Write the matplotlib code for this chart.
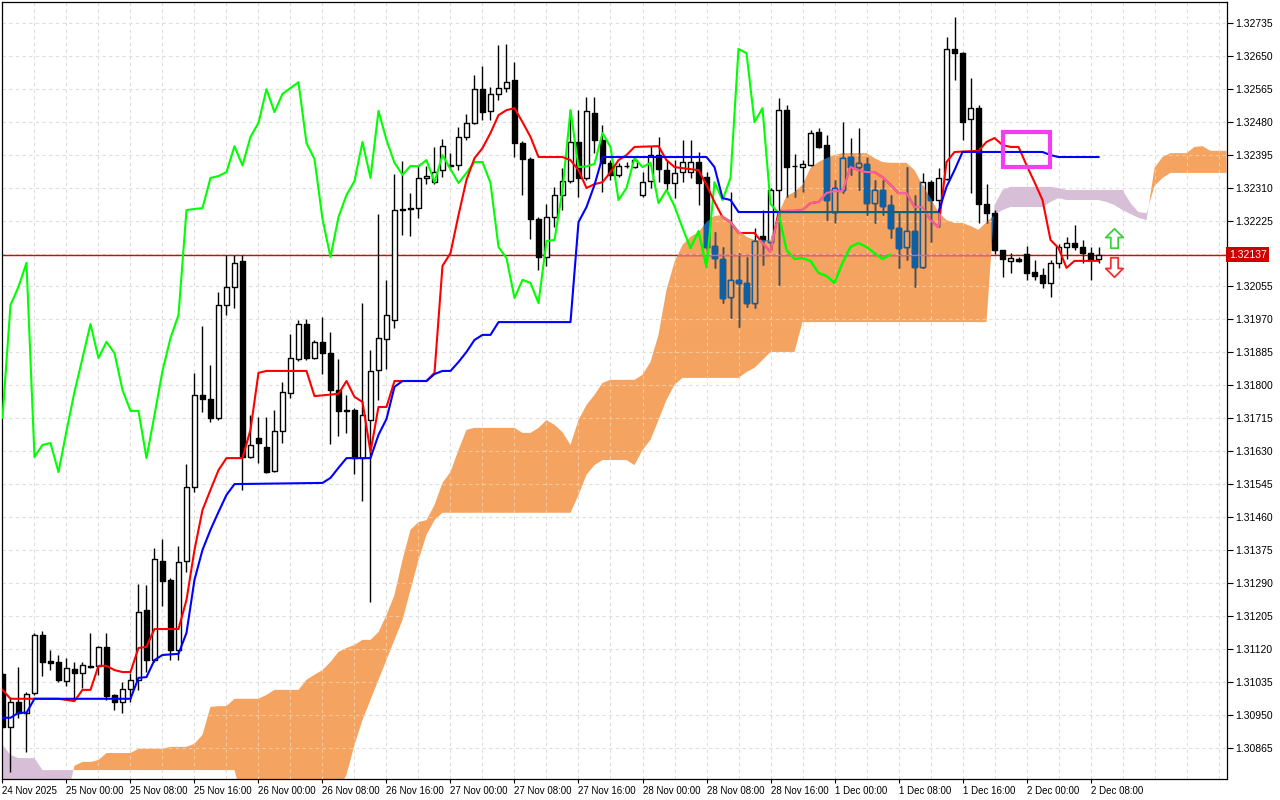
import numpy as np
import matplotlib.pyplot as plt
from matplotlib.path import Path
from matplotlib.collections import LineCollection, PolyCollection
from matplotlib.patches import Rectangle

# ---------------- data (H1 candles, 24 Nov 16:00 -> 2 Dec 09:00) ----------------
opens = [
    1.31055, 1.30918, 1.30983, 1.30955, 1.31006, 1.31156, 1.31089, 1.31086, 1.31037, 1.31068,
    1.31058, 1.31073, 1.31076, 1.31125, 1.31001, 1.30983, 1.31016, 1.31040, 1.31220, 1.31091,
    1.31347, 1.31298, 1.31117, 1.31347, 1.31538, 1.31775, 1.31765, 1.31716, 1.32007, 1.32054,
    1.32121, 1.31615, 1.31664, 1.31641, 1.31579, 1.31682, 1.31780, 1.31868, 1.31958, 1.31870,
    1.31912, 1.31883, 1.31788, 1.31736, 1.31736, 1.31612, 1.31710, 1.31839, 1.31919, 1.31968,
    1.32252, 1.32255, 1.32257, 1.32335, 1.32324, 1.32355, 1.32368, 1.32368, 1.32441, 1.32477,
    1.32564, 1.32508, 1.32552, 1.32567, 1.32588, 1.32425, 1.32384, 1.32229, 1.32131, 1.32234,
    1.32291, 1.32327, 1.32428, 1.32335, 1.32503, 1.32433, 1.32374, 1.32343, 1.32366, 1.32363,
    1.32291, 1.32327, 1.32394, 1.32355, 1.32322, 1.32350, 1.32350, 1.32376, 1.32337, 1.32159,
    1.32126, 1.32028, 1.32072, 1.32064, 1.32012, 1.32185, 1.32170, 1.32304, 1.32510, 1.32366,
    1.32363, 1.32368, 1.32453, 1.32420, 1.32247, 1.32304, 1.32389, 1.32363, 1.32371, 1.32270,
    1.32304, 1.32265, 1.32206, 1.32157, 1.32198, 1.32105, 1.32324, 1.32278, 1.32332, 1.32668,
    1.32657, 1.32487, 1.32515, 1.32268, 1.32244, 1.32149, 1.32121, 1.32126, 1.32139, 1.32092,
    1.32085, 1.32064, 1.32116, 1.32157, 1.32167, 1.32157, 1.32141, 1.32126,
]
highs = [
    1.31060, 1.30996, 1.31073, 1.31009, 1.31161, 1.31166, 1.31117, 1.31104, 1.31096, 1.31086,
    1.31086, 1.31161, 1.31127, 1.31161, 1.31004, 1.31034, 1.31058, 1.31287, 1.31285, 1.31380,
    1.31403, 1.31303, 1.31385, 1.31597, 1.31832, 1.31953, 1.31852, 1.32041, 1.32136, 1.32136,
    1.32136, 1.31723, 1.31718, 1.31718, 1.31736, 1.31808, 1.31932, 1.31968, 1.31971, 1.31917,
    1.31976, 1.31937, 1.31868, 1.31775, 1.31741, 1.32012, 1.31891, 1.32242, 1.32072, 1.32345,
    1.32379, 1.32296, 1.32368, 1.32366, 1.32415, 1.32435, 1.32399, 1.32466, 1.32500, 1.32601,
    1.32624, 1.32570, 1.32678, 1.32681, 1.32634, 1.32430, 1.32389, 1.32234, 1.32268, 1.32312,
    1.32361, 1.32510, 1.32510, 1.32544, 1.32544, 1.32472, 1.32381, 1.32374, 1.32376, 1.32386,
    1.32350, 1.32417, 1.32441, 1.32381, 1.32381, 1.32433, 1.32433, 1.32402, 1.32350, 1.32195,
    1.32157, 1.32299, 1.32141, 1.32131, 1.32206, 1.32252, 1.32309, 1.32541, 1.32523, 1.32397,
    1.32381, 1.32459, 1.32464, 1.32446, 1.32330, 1.32479, 1.32438, 1.32464, 1.32389, 1.32330,
    1.32330, 1.32291, 1.32244, 1.32363, 1.32291, 1.32348, 1.32330, 1.32361, 1.32699, 1.32750,
    1.32660, 1.32593, 1.32523, 1.32319, 1.32252, 1.32149, 1.32141, 1.32131, 1.32159, 1.32123,
    1.32103, 1.32123, 1.32165, 1.32183, 1.32214, 1.32175, 1.32157, 1.32157,
]
lows = [
    1.30916, 1.30802, 1.30942, 1.30854, 1.31001, 1.31050, 1.31065, 1.31034, 1.31024, 1.30991,
    1.31019, 1.31071, 1.31053, 1.30988, 1.30962, 1.30955, 1.30983, 1.31014, 1.31060, 1.31086,
    1.31231, 1.31091, 1.31091, 1.31318, 1.31525, 1.31731, 1.31705, 1.31710, 1.31981, 1.31999,
    1.31530, 1.31612, 1.31600, 1.31574, 1.31576, 1.31651, 1.31767, 1.31863, 1.31865, 1.31868,
    1.31829, 1.31649, 1.31669, 1.31677, 1.31571, 1.31501, 1.31241, 1.31762, 1.31842, 1.31948,
    1.32188, 1.32185, 1.32232, 1.32319, 1.32319, 1.32337, 1.32355, 1.32355, 1.32433, 1.32474,
    1.32484, 1.32484, 1.32536, 1.32557, 1.32389, 1.32291, 1.32177, 1.32097, 1.32108, 1.32208,
    1.32252, 1.32322, 1.32286, 1.32330, 1.32399, 1.32299, 1.32330, 1.32337, 1.32361, 1.32361,
    1.32286, 1.32309, 1.32324, 1.32304, 1.32283, 1.32324, 1.32335, 1.32265, 1.32149, 1.32103,
    1.32012, 1.31974, 1.31950, 1.32002, 1.31999, 1.32110, 1.32149, 1.32059, 1.32286, 1.32286,
    1.32299, 1.32366, 1.32412, 1.32226, 1.32219, 1.32296, 1.32343, 1.32304, 1.32239, 1.32219,
    1.32239, 1.32180, 1.32103, 1.32123, 1.32054, 1.32103, 1.32170, 1.32208, 1.32330, 1.32588,
    1.32433, 1.32296, 1.32219, 1.32219, 1.32139, 1.32079, 1.32090, 1.32118, 1.32072, 1.32072,
    1.32051, 1.32028, 1.32103, 1.32126, 1.32149, 1.32116, 1.32072, 1.32116,
]
closes = [
    1.30918, 1.30983, 1.30955, 1.31004, 1.31156, 1.31086, 1.31083, 1.31040, 1.31071, 1.31058,
    1.31078, 1.31076, 1.31125, 1.30998, 1.30983, 1.31016, 1.31040, 1.31215, 1.31091, 1.31352,
    1.31295, 1.31117, 1.31344, 1.31538, 1.31775, 1.31765, 1.31716, 1.32007, 1.32054, 1.32116,
    1.31615, 1.31646, 1.31651, 1.31576, 1.31682, 1.31783, 1.31870, 1.31958, 1.31870, 1.31912,
    1.31883, 1.31788, 1.31734, 1.31734, 1.31612, 1.31723, 1.31837, 1.31922, 1.31981, 1.32252,
    1.32255, 1.32257, 1.32335, 1.32340, 1.32350, 1.32417, 1.32367, 1.32441, 1.32477, 1.32564,
    1.32505, 1.32552, 1.32567, 1.32582, 1.32425, 1.32384, 1.32229, 1.32131, 1.32234, 1.32291,
    1.32327, 1.32428, 1.32335, 1.32508, 1.32433, 1.32374, 1.32343, 1.32366, 1.32365, 1.32381,
    1.32324, 1.32394, 1.32358, 1.32322, 1.32348, 1.32376, 1.32376, 1.32322, 1.32157, 1.32128,
    1.32025, 1.32072, 1.32064, 1.32012, 1.32172, 1.32175, 1.32304, 1.32510, 1.32363, 1.32365,
    1.32371, 1.32451, 1.32415, 1.32278, 1.32309, 1.32386, 1.32363, 1.32374, 1.32270, 1.32304,
    1.32262, 1.32206, 1.32154, 1.32198, 1.32105, 1.32324, 1.32278, 1.32335, 1.32668, 1.32657,
    1.32479, 1.32515, 1.32268, 1.32244, 1.32149, 1.32126, 1.32128, 1.32121, 1.32090, 1.32082,
    1.32064, 1.32116, 1.32157, 1.32167, 1.32157, 1.32141, 1.32126, 1.32137,
]

# Tenkan-sen (bar, price)
tenkan_pts = [
    (0, 1.31014), (1, 1.30991), (7, 1.30991), (9, 1.30985), (10, 1.31014), (11, 1.31014),
    (12, 1.31076), (13, 1.31076), (14, 1.31065), (15, 1.31060), (16, 1.31060), (17, 1.31122),
    (18, 1.31125), (19, 1.31171), (22, 1.31171), (23, 1.31246), (24, 1.31375), (25, 1.31478),
    (26, 1.31530), (27, 1.31581), (28, 1.31612), (30, 1.31612), (31, 1.31685), (32, 1.31832),
    (33, 1.31837), (38, 1.31837), (39, 1.31772), (42, 1.31778), (43, 1.31811), (44, 1.31770),
    (45, 1.31757), (46, 1.31628), (47, 1.31744), (48, 1.31744), (49, 1.31811), (53, 1.31811),
    (54, 1.31832), (55, 1.32108), (56, 1.32141), (57, 1.32239), (58, 1.32330), (59, 1.32386),
    (60, 1.32412), (61, 1.32451), (62, 1.32497), (63, 1.32510), (64, 1.32515), (65, 1.32479),
    (66, 1.32441), (67, 1.32389), (70, 1.32389), (71, 1.32381), (72, 1.32355), (73, 1.32309),
    (74, 1.32319), (75, 1.32324), (76, 1.32350), (77, 1.32381), (78, 1.32394), (79, 1.32415),
    (82, 1.32417), (83, 1.32381), (84, 1.32363), (87, 1.32355), (88, 1.32317), (89, 1.32273),
    (90, 1.32234), (91, 1.32221), (92, 1.32193), (94, 1.32193), (95, 1.32167), (96, 1.32144),
    (97, 1.32247), (98, 1.32250), (99, 1.32250), (100, 1.32252), (101, 1.32270), (102, 1.32273),
    (103, 1.32296), (104, 1.32301), (105, 1.32301), (106, 1.32363), (107, 1.32355), (108, 1.32350),
    (109, 1.32350), (110, 1.32337), (111, 1.32317), (112, 1.32296), (113, 1.32296), (114, 1.32260),
    (115, 1.32260), (116, 1.32226), (117, 1.32208), (118, 1.32376), (119, 1.32402), (122, 1.32405),
    (123, 1.32428), (124, 1.32438), (125, 1.32420), (126, 1.32415), (127, 1.32415), (128, 1.32368),
    (129, 1.32324), (130, 1.32278), (131, 1.32175), (132, 1.32154), (133, 1.32103), (134, 1.32121),
    (137, 1.32121),
]

# Kijun-sen (bar, price)
kijun_pts = [
    (0, 1.30942), (1, 1.30942), (2, 1.30955), (3, 1.30955), (4, 1.30991), (16, 1.30991),
    (17, 1.31045), (18, 1.31047), (19, 1.31091), (20, 1.31104), (22, 1.31107), (23, 1.31161),
    (24, 1.31298), (25, 1.31375), (26, 1.31427), (27, 1.31473), (28, 1.31517), (29, 1.31545),
    (40, 1.31548), (41, 1.31561), (42, 1.31587), (43, 1.31612), (46, 1.31612), (47, 1.31672),
    (48, 1.31713), (49, 1.31796), (50, 1.31811), (53, 1.31811), (54, 1.31829), (55, 1.31837),
    (56, 1.31837), (57, 1.31860), (58, 1.31886), (59, 1.31917), (60, 1.31930), (61, 1.31930),
    (62, 1.31963), (71, 1.31963), (72, 1.32221), (73, 1.32260), (74, 1.32317), (75, 1.32389),
    (88, 1.32389), (89, 1.32363), (90, 1.32283), (91, 1.32278), (92, 1.32247), (117, 1.32247),
    (118, 1.32312), (119, 1.32355), (120, 1.32402), (130, 1.32402), (131, 1.32394), (132, 1.32389),
    (137, 1.32389),
]

# Chikou span (drawn from bar 0)
chikou = [
    1.31716, 1.32007, 1.32054, 1.32116, 1.31615, 1.31646, 1.31651, 1.31576, 1.31682, 1.31783,
    1.31870, 1.31958, 1.31870, 1.31912, 1.31883, 1.31788, 1.31734, 1.31734, 1.31612, 1.31723,
    1.31837, 1.31922, 1.31981, 1.32252, 1.32255, 1.32257, 1.32335, 1.32340, 1.32350, 1.32417,
    1.32367, 1.32441, 1.32477, 1.32564, 1.32505, 1.32552, 1.32567, 1.32582, 1.32425, 1.32384,
    1.32229, 1.32131, 1.32234, 1.32291, 1.32327, 1.32428, 1.32335, 1.32508, 1.32433, 1.32374,
    1.32343, 1.32366, 1.32365, 1.32381, 1.32324, 1.32394, 1.32358, 1.32322, 1.32348, 1.32376,
    1.32376, 1.32322, 1.32157, 1.32128, 1.32025, 1.32072, 1.32064, 1.32012, 1.32172, 1.32175,
    1.32304, 1.32510, 1.32363, 1.32365, 1.32371, 1.32451, 1.32415, 1.32278, 1.32309, 1.32386,
    1.32363, 1.32374, 1.32270, 1.32304, 1.32262, 1.32206, 1.32154, 1.32198, 1.32105, 1.32324,
    1.32278, 1.32335, 1.32668, 1.32657, 1.32479, 1.32515, 1.32268, 1.32244, 1.32149, 1.32126,
    1.32128, 1.32121, 1.32090, 1.32082, 1.32064, 1.32116, 1.32157, 1.32167, 1.32157, 1.32141,
    1.32126, 1.32137,
]

# Senkou span A / B (bar 0 .. 153, shifted forward)
span_a = [
    1.30730, 1.30730, 1.30730, 1.30730, 1.30730, 1.30730, 1.30730, 1.30730, 1.30730, 1.30818,
    1.30828, 1.30828, 1.30833, 1.30851, 1.30851, 1.30851, 1.30851, 1.30862, 1.30862, 1.30862,
    1.30862, 1.30867, 1.30867, 1.30867, 1.30875, 1.30898, 1.30970, 1.30972, 1.30972, 1.30991,
    1.30991, 1.30991, 1.30991, 1.31001, 1.31014, 1.31014, 1.31014, 1.31014, 1.31040, 1.31053,
    1.31065, 1.31086, 1.31112, 1.31122, 1.31130, 1.31143, 1.31143, 1.31163, 1.31207, 1.31259,
    1.31349, 1.31427, 1.31447, 1.31452, 1.31491, 1.31548, 1.31576, 1.31633, 1.31685, 1.31690,
    1.31690, 1.31690, 1.31690, 1.31690, 1.31690, 1.31677, 1.31677, 1.31690, 1.31710, 1.31698,
    1.31679, 1.31646, 1.31710, 1.31749, 1.31775, 1.31806, 1.31814, 1.31814, 1.31814, 1.31814,
    1.31827, 1.31860, 1.31930, 1.32046, 1.32118, 1.32162, 1.32183, 1.32195, 1.32221, 1.32237,
    1.32239, 1.32226, 1.32201, 1.32183, 1.32175, 1.32175, 1.32175, 1.32244, 1.32288, 1.32299,
    1.32317, 1.32361, 1.32376, 1.32386, 1.32394, 1.32399, 1.32399, 1.32399, 1.32399, 1.32386,
    1.32376, 1.32374, 1.32374, 1.32374, 1.32355, 1.32317, 1.32283, 1.32247, 1.32226, 1.32219,
    1.32219, 1.32211, 1.32201, 1.32221, 1.32239, 1.32252, 1.32260, 1.32260, 1.32260, 1.32260,
    1.32260, 1.32273, 1.32283, 1.32278, 1.32278, 1.32278, 1.32278, 1.32278, 1.32273, 1.32265,
    1.32252, 1.32242, 1.32232, 1.32226, 1.32361, 1.32389, 1.32399, 1.32399, 1.32399, 1.32415,
    1.32417, 1.32405, 1.32405, 1.32405,
]
span_b = [
    1.30872, 1.30846, 1.30838, 1.30838, 1.30838, 1.30807, 1.30807, 1.30807, 1.30807, 1.30807,
    1.30807, 1.30807, 1.30807, 1.30807, 1.30807, 1.30807, 1.30807, 1.30807, 1.30807, 1.30807,
    1.30807, 1.30807, 1.30807, 1.30807, 1.30807, 1.30807, 1.30807, 1.30807, 1.30807, 1.30807,
    1.30730, 1.30730, 1.30730, 1.30730, 1.30730, 1.30730, 1.30730, 1.30730, 1.30730, 1.30730,
    1.30730, 1.30730, 1.30756, 1.30795, 1.30872, 1.30936, 1.30988, 1.31040, 1.31091, 1.31143,
    1.31194, 1.31272, 1.31349, 1.31414, 1.31452, 1.31471, 1.31471, 1.31471, 1.31471, 1.31471,
    1.31471, 1.31471, 1.31471, 1.31471, 1.31471, 1.31471, 1.31471, 1.31471, 1.31471, 1.31471,
    1.31471, 1.31471, 1.31517, 1.31569, 1.31594, 1.31607, 1.31607, 1.31607, 1.31607, 1.31594,
    1.31633, 1.31659, 1.31710, 1.31762, 1.31801, 1.31819, 1.31819, 1.31819, 1.31819, 1.31819,
    1.31819, 1.31819, 1.31819, 1.31834, 1.31845, 1.31865, 1.31886, 1.31886, 1.31886, 1.31886,
    1.31963, 1.31963, 1.31963, 1.31963, 1.31963, 1.31963, 1.31963, 1.31963, 1.31963, 1.31963,
    1.31963, 1.31963, 1.31963, 1.31963, 1.31963, 1.31963, 1.31963, 1.31963, 1.31963, 1.31963,
    1.31963, 1.31963, 1.31963, 1.31963, 1.32265, 1.32304, 1.32312, 1.32312, 1.32312, 1.32312,
    1.32312, 1.32312, 1.32309, 1.32304, 1.32304, 1.32304, 1.32304, 1.32304, 1.32304, 1.32304,
    1.32304, 1.32270, 1.32247, 1.32244, 1.32314, 1.32335, 1.32348, 1.32348, 1.32348, 1.32348,
    1.32348, 1.32348, 1.32348, 1.32348,
]

last_price = 1.32137
price_ticks = [1.30865, 1.30950, 1.31035, 1.31120, 1.31205, 1.31290, 1.31375, 1.31460,
               1.31545, 1.31630, 1.31715, 1.31800, 1.31885, 1.31970, 1.32055, 1.32140,
               1.32225, 1.32310, 1.32395, 1.32480, 1.32565, 1.32650, 1.32735]
date_bars = [0, 8, 16, 24, 32, 40, 48, 56, 64, 72, 80, 88, 96, 104, 112, 120, 128, 136]
date_labels = ['24 Nov 2025', '25 Nov 00:00', '25 Nov 08:00', '25 Nov 16:00', '26 Nov 00:00',
               '26 Nov 08:00', '26 Nov 16:00', '27 Nov 00:00', '27 Nov 08:00', '27 Nov 16:00',
               '28 Nov 00:00', '28 Nov 08:00', '28 Nov 16:00', '1 Dec 00:00', '1 Dec 08:00',
               '1 Dec 16:00', '2 Dec 00:00', '2 Dec 08:00']

# marked box + signal arrows
box_bars = (125.05, 130.9)
box_prices = (1.32363, 1.32453)
arrow_bar = 138.9
arrow_up_price = 1.32180
arrow_down_price = 1.32105

# ---------------- drawing ----------------
plt.rcParams['font.family'] = ['Liberation Sans', 'DejaVu Sans']

o = np.array(opens)
h = np.array(highs)
l = np.array(lows)
c = np.array(closes)
bars = np.arange(len(o))

fig = plt.figure(figsize=(12.8, 8), dpi=100)
ax = fig.add_axes([2 / 1280, 21 / 800, 1225 / 1280, 777 / 800])
ax.set_xlim(-0.06, 153.06)
ax.set_ylim(1.30784, 1.32789)

grid_kw = dict(lw=0.8, ls=(0, (3, 3)))
for p in price_ticks:
    ax.axhline(p, color='#dedede', zorder=0, **grid_kw)
for b in range(4, 154, 4):
    ax.axvline(b, color='#dedede', zorder=0, **grid_kw)

# cloud
ka = np.arange(len(span_a))
a = np.array(span_a)
b = np.array(span_b)
orange = ax.fill_between(ka, a, b, where=a >= b, interpolate=True,
                         color='#F4A460', lw=0, zorder=1)
ax.fill_between(ka, a, b, where=a < b, interpolate=True,
                color='#D8BFD8', lw=0, zorder=1)
cloud_clip = Path.make_compound_path(*orange.get_paths())


def clipped(art, clip):
    if clip is not None:
        art.set_clip_path(clip, ax.transData)
    return art


def draw_candles(col, up_face, z, clip=None):
    wicks = LineCollection([[(i, lo), (i, hi)] for i, lo, hi in zip(bars, l, h)],
                           colors=col, linewidths=1.0, zorder=z)
    boxes, faces = [], []
    for i in bars:
        lo, hi = min(o[i], c[i]), max(o[i], c[i])
        boxes.append([(i - 0.28, lo), (i + 0.28, lo), (i + 0.28, hi), (i - 0.28, hi)])
        faces.append(up_face if c[i] > o[i] else col)
    body = PolyCollection(boxes, facecolors=faces, edgecolors=col,
                          linewidths=1.0, zorder=z + 0.1)
    ax.add_collection(clipped(wicks, clip))
    ax.add_collection(clipped(body, clip))


def draw_lines(price_col, tenkan_col, kijun_col, z, clip=None):
    clipped(ax.axhline(last_price, color=price_col, lw=1.0, zorder=z), clip)
    clipped(ax.plot(range(len(chikou)), chikou, color='#00FF00', lw=1.5, zorder=z + 2)[0], clip)
    tb, tv = zip(*tenkan_pts)
    clipped(ax.plot(tb, tv, color=tenkan_col, lw=1.5, zorder=z + 3)[0], clip)
    kb, kv = zip(*kijun_pts)
    clipped(ax.plot(kb, kv, color=kijun_col, lw=1.5, zorder=z + 4)[0], clip)


# normal layer
ax.axhline(last_price, color='#E80000', lw=1.0, zorder=2)
draw_candles('black', 'white', 3)
ax.plot(range(len(chikou)), chikou, color='#00FF00', lw=1.5, zorder=5)
tb, tv = zip(*tenkan_pts)
ax.plot(tb, tv, color='#FF0000', lw=1.5, zorder=5.5)
kb, kv = zip(*kijun_pts)
ax.plot(kb, kv, color='#0000FF', lw=1.5, zorder=6)

# layer where things sit inside the orange cloud (colours change there)
for p in price_ticks:
    clipped(ax.axhline(p, color='#F8C9A0', zorder=6.5, **grid_kw), cloud_clip)
for bb in range(4, 154, 4):
    clipped(ax.axvline(bb, color='#F8C9A0', zorder=6.5, **grid_kw), cloud_clip)
draw_candles('#0F5FA5', '#F4A460', 7, cloud_clip)
draw_lines('#C864B4', '#F2649F', '#0E6470', 7.5, cloud_clip)

# annotations
ax.add_patch(Rectangle((box_bars[0], box_prices[0]), box_bars[1] - box_bars[0],
                       box_prices[1] - box_prices[0], fill=False, ec='#F53CF5', lw=3, zorder=15))
up = Path([(0, 1), (0.9, 0.1), (0.38, 0.1), (0.38, -1), (-0.38, -1), (-0.38, 0.1), (-0.9, 0.1), (0, 1)],
          closed=True)
down = Path([(0, -1), (0.9, -0.1), (0.38, -0.1), (0.38, 1), (-0.38, 1), (-0.38, -0.1), (-0.9, -0.1), (0, -1)],
            closed=True)
ax.plot([arrow_bar], [arrow_up_price], marker=up, ms=14, mfc='none', mec='#3CCF3C', mew=1.3, zorder=15)
ax.plot([arrow_bar], [arrow_down_price], marker=down, ms=14, mfc='none', mec='#F03030', mew=1.3, zorder=15)

# axes styling
for s in ax.spines.values():
    s.set_color('black')
    s.set_linewidth(0.9)
ax.yaxis.tick_right()
ax.set_yticks(price_ticks)
# the 1.32140 level sits under the current-price box, so its label is left blank
ax.set_yticklabels(['' if abs(p - last_price) < 0.0002 else f'{p:.5f}' for p in price_ticks])
ax.set_xticks(date_bars)
ax.set_xticklabels(date_labels, ha='left')
ax.tick_params(axis='y', length=4, pad=2, labelsize=7.5, colors='black')
ax.tick_params(axis='x', length=3, pad=2, labelsize=7, colors='black')

ax.text(1.0015, last_price, f'{last_price:.5f}', transform=ax.get_yaxis_transform(),
        ha='left', va='center', fontsize=7.5, color='white', zorder=20, clip_on=False,
        bbox=dict(boxstyle='square,pad=0.25', fc='#CC0000', ec='none'))

fig.savefig('out.png', dpi=100, facecolor='white')
